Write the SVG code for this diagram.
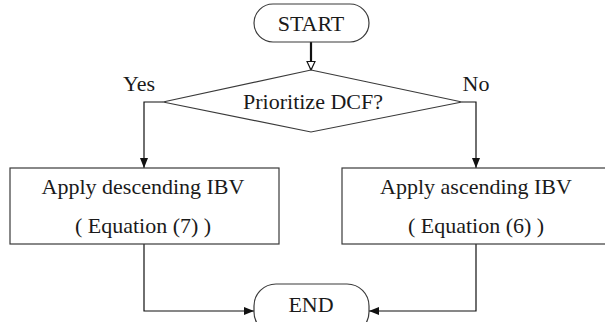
<svg xmlns="http://www.w3.org/2000/svg" width="605" height="322" viewBox="0 0 605 322">
  <style>
    .shape { fill: #ffffff; stroke: #3a3a3a; stroke-width: 1.2; }
    .label { font-family: "Liberation Serif", "Times New Roman", serif; font-size: 22px; fill: #1a1a1a; text-anchor: middle; }
    .edge { fill: none; stroke: #111111; stroke-width: 1.2; }
    .edge-bold { stroke-width: 2.2; }
  </style>
  <defs>
    <marker id="arrow" markerUnits="userSpaceOnUse" markerWidth="10" markerHeight="10" viewBox="0 0 10 10" refX="10" refY="5" orient="auto">
      <path d="M0,1 L10,5 L0,9 Z" fill="#111111"/>
    </marker>
    <marker id="arrow-open" markerUnits="userSpaceOnUse" markerWidth="10" markerHeight="10" viewBox="0 0 10 10" refX="9.5" refY="5" orient="auto">
      <path d="M1,1 L9.5,5 L1,9 Z" fill="#ffffff" stroke="#111111" stroke-width="1.2"/>
    </marker>
  </defs>

  <g id="connectors">
    <line class="edge edge-bold" x1="311" y1="42" x2="311" y2="70" marker-end="url(#arrow-open)"/>
    <polyline class="edge" points="163,102 144,102 144,168" marker-end="url(#arrow)"/>
    <polyline class="edge" points="462,102 476,102 476,168" marker-end="url(#arrow)"/>
    <polyline class="edge" points="144,244 144,311 254,311" marker-end="url(#arrow)"/>
    <polyline class="edge" points="476,244 476,311 369,311" marker-end="url(#arrow)"/>
  </g>

  <g id="start">
    <rect class="shape" x="254" y="4" width="115" height="38" rx="19" ry="19"/>
    <text class="label" x="311" y="31">START</text>
  </g>

  <g id="decision">
    <polygon class="shape" points="311,70 462,102 311,132 163,102"/>
    <text class="label" x="313" y="109">Prioritize DCF?</text>
  </g>

  <g id="branch-labels">
    <text class="label" x="139" y="91">Yes</text>
    <text class="label" x="476" y="91">No</text>
  </g>

  <g id="descending">
    <rect class="shape" x="10" y="168" width="269" height="76"/>
    <text class="label" x="143" y="194">Apply descending IBV</text>
    <text class="label" x="143" y="233">( Equation (7) )</text>
  </g>

  <g id="ascending">
    <rect class="shape" x="342" y="168" width="270" height="76"/>
    <text class="label" x="476" y="194">Apply ascending IBV</text>
    <text class="label" x="476" y="233">( Equation (6) )</text>
  </g>

  <g id="end">
    <rect class="shape" x="254" y="284" width="115" height="50" rx="22" ry="22"/>
    <text class="label" x="311" y="312">END</text>
  </g>
</svg>
